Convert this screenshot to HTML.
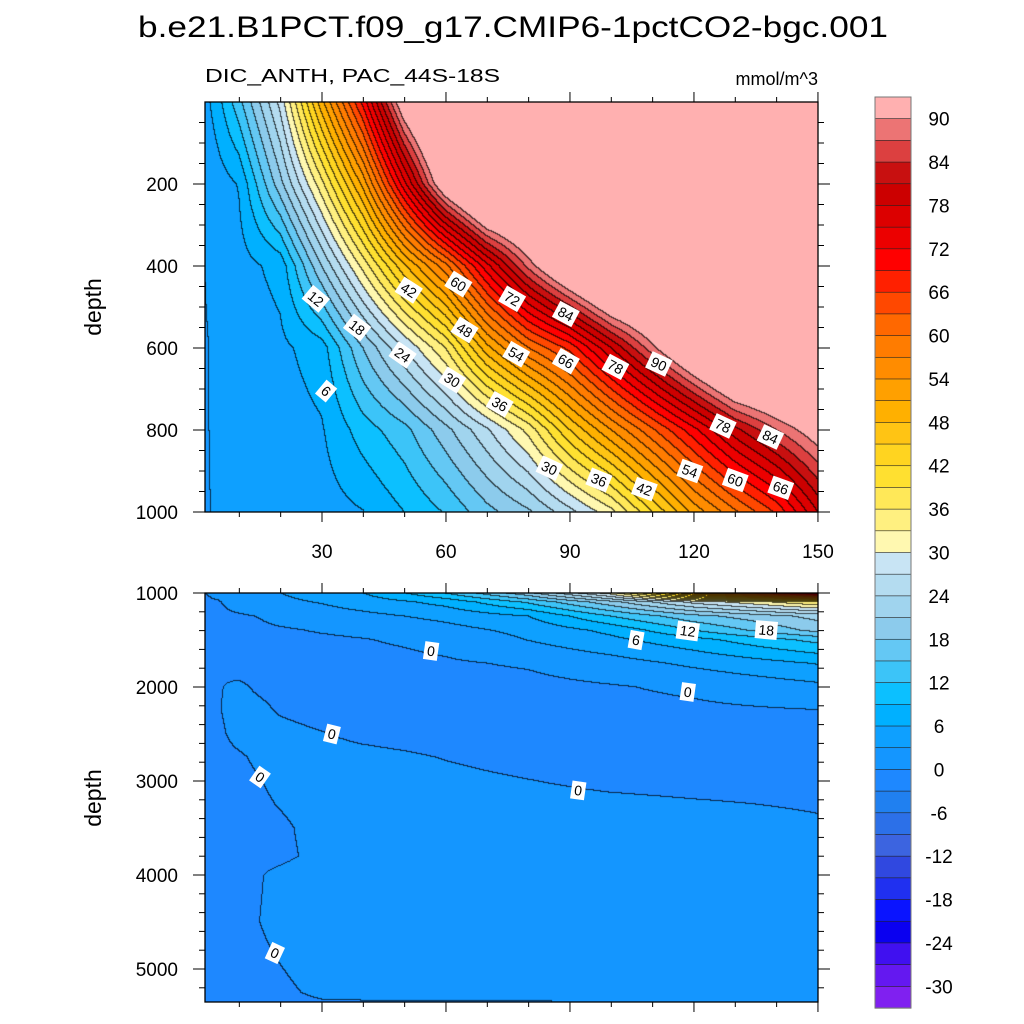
<!DOCTYPE html>
<html><head><meta charset="utf-8">
<style>
html,body{margin:0;padding:0;background:#fff;}
#wrap{position:relative;width:1024px;height:1024px;overflow:hidden;font-family:"Liberation Sans",sans-serif;}
canvas{position:absolute;}
svg{position:absolute;left:0;top:0;}
</style></head>
<body>
<div id="wrap">
<canvas id="ctop" style="left:205px;top:102px" width="613" height="410"></canvas>
<canvas id="cbot" style="left:205px;top:593px" width="613" height="409"></canvas>
<svg id="ov" width="1024" height="1024" xmlns="http://www.w3.org/2000/svg">
<text x="138" y="37" font-size="30" textLength="750" lengthAdjust="spacingAndGlyphs" font-family="Liberation Sans, sans-serif">b.e21.B1PCT.f09_g17.CMIP6-1pctCO2-bgc.001</text>
<text x="205" y="82" font-size="18" textLength="295" lengthAdjust="spacingAndGlyphs">DIC_ANTH, PAC_44S-18S</text>
<text x="818" y="85" font-size="18" text-anchor="end">mmol/m^3</text>
<text x="0" y="0" font-size="23" text-anchor="middle" transform="translate(101,307) rotate(-90)">depth</text>
<text x="0" y="0" font-size="23" text-anchor="middle" transform="translate(101,798) rotate(-90)">depth</text>
<g id="g"></g>
</svg>
</div>
<script>
// ---- data ----
const topX=[0,5,10,20,30,40,50,60,70,80,90,100,110,120,130,140,150];
const topD=[0,200,400,600,800,1000];
const topV=[
[3,8,14,28,50,70,95,110,110,110,110,110,110,110,110,110,110],
[2.5,4.5,6.2,20,35,52,74,96,110,110,110,110,110,110,110,110,110],
[2.5,4,4.8,7,21,34,47.5,59,74,88,100,110,110,110,110,110,110],
[2.5,3.4,4,5.3,7.5,18,27,36,50,60,67,78,89,100,110,110,110],
[2.5,3.4,3.8,4.5,5.7,10.5,14,20,26.5,34,45,54,62.5,71,80,87,93],
[2.5,3.3,3.6,4,4.6,5.9,9,12.3,17,20.5,26,32,42,52,59.5,66.5,78]
];
const botX=[0,5,10,15,20,30,40,50,60,80,100,120,150];
const botD=[1000,1100,1250,1400,1500,1750,2000,2250,2500,2750,3000,3250,3500,3800,4000,4500,5000,5250,5400];
const botV=[
[-0.5,0.8,1.5,2.2,3.0,4.5,6,9,12.3,20.5,32,52,78],
[-0.5,-0.2,1.2,1.8,2.3,3.2,4.5,5.6,7,12.5,20,28,36],
[-0.8,-0.6,-0.3,0.1,0.8,1.5,2.2,3,3.8,6,12,17,22],
[-0.8,-0.8,-0.7,-0.5,-0.3,0.2,0.6,1.2,2,3.8,6.8,12,19],
[-0.8,-0.8,-0.8,-0.7,-0.6,-0.4,-0.1,0.3,0.8,3.1,5.3,8,13],
[-0.5,-0.1,-0.8,-0.8,-0.8,-0.8,-0.8,-0.6,-0.3,0.3,1.8,3.6,6.2],
[-0.5,-0.1,0.3,-0.3,-0.6,-0.9,-1,-1,-1,-0.8,-0.2,0.5,2.3],
[-0.5,-0.1,0.6,0.4,-0.2,-0.8,-1,-1,-1,-1,-0.8,-0.5,-0.05],
[-0.5,-0.3,0.5,0.7,0.6,0.1,-0.5,-0.8,-1,-1,-1,-1,-0.6],
[-0.5,-0.5,-0.2,0.3,0.6,0.8,0.6,0.3,-0.1,-0.8,-1,-1,-0.9],
[-0.5,-0.5,-0.5,-0.05,0.4,0.8,0.8,0.8,0.6,0.05,-0.5,-0.7,-0.8],
[-0.5,-0.5,-0.5,-0.3,0.1,0.8,1,1,1,0.8,0.5,0.2,-0.2],
[-0.5,-0.5,-0.5,-0.5,-0.3,0.6,1,1,1,1,1,1,0.3],
[-0.5,-0.5,-0.5,-0.5,-0.4,0.5,1,1,1,1,1,1,0.8],
[-0.5,-0.5,-0.5,-0.1,0.4,1,1,1,1,1,1,1,1],
[-0.5,-0.5,-0.5,0,0.5,1,1,1,1,1,1,1,1],
[-0.5,-0.5,-0.5,-0.4,-0.05,0.6,1,1,1,1,1,1,1],
[-0.5,-0.5,-0.5,-0.5,-0.3,0.3,0.4,0.4,0.4,0.4,0.5,1,1],
[-0.5,-0.5,-0.5,-0.5,-0.5,-0.3,-0.3,-0.3,-0.3,-0.3,-0.1,0.5,0.8]
];
const levelColors=["#8020f0","#6418f0","#4010f0","#0a00f0","#0a14ff","#2030f0","#3048e0","#3c64e0","#2c70e8","#2080f0","#1e88ff","#1496ff","#0ea0ff","#00b0ff","#0cc0ff","#3cc4f8","#64c8f4","#8ccbec","#a0d4ee","#b4dcf0","#c8e4f4","#fff8b0","#fff080","#ffe858","#ffe030","#ffd420","#ffc414","#ffb000","#ffa000","#ff8c00","#ff7c00","#ff6800","#ff4800","#ff2000","#ff0000","#ec0000","#dc0000","#cc0000","#c81010","#dc4040","#ec7474","#ffb0b0"];
const cbLabels=[90,84,78,72,66,60,54,48,42,36,30,24,18,12,6,0,-6,-12,-18,-24,-30];
const xTickLabels=[30,60,90,120,150];
const topYTicks=[200,400,600,800,1000];
const botYTicks=[1000,2000,3000,4000,5000];
const topLabels=[[28.5,480,"12",40],[38.5,550,"18",38],[49.5,617,"24",35],[61.5,678,"30",32],[73,737,"36",30],[31,705,"6",40],[51,459,"42",33],[64.5,556,"48",32],[77,615,"54",30],[63,444,"60",32],[89,632,"66",30],[76,480,"72",30],[101,646,"78",28],[89,517,"84",28],[111.5,639,"90",25],[127,790,"78",25],[138.5,817,"84",25],[85,893,"30",25],[97,922,"36",22],[108,944,"42",20],[119,900,"54",20],[130,922,"60",20],[141,941,"66",20]];
const botLabels=[[56.4,1617,"0",8],[106,1500,"6",10],[118.5,1404,"12",8],[137.5,1394,"18",5],[118.5,2053,"0",8],[32.4,2500,"0",14],[92,3100,"0",8],[15,2957,"0",35],[18.6,4830,"0",25]];

// ---- scales ----
const XS=4.133, X0=198;
function px(x){return X0+x*XS;}
function pyTop(d){return 102+d*0.41;}
function pyBot(d){return 593+(d-1000)*0.094;}

function interp(X,D,V,x,d){
  let i=0;while(i<X.length-2&&x>X[i+1])i++;
  let j=0;while(j<D.length-2&&d>D[j+1])j++;
  let tx=(x-X[i])/(X[i+1]-X[i]);tx=Math.max(0,Math.min(1,tx));
  let ty=(d-D[j])/(D[j+1]-D[j]);ty=Math.max(0,Math.min(1,ty));
  return (V[j][i]*(1-tx)+V[j][i+1]*tx)*(1-ty)+(V[j+1][i]*(1-tx)+V[j+1][i+1]*tx)*ty;
}
function hex(c){return [parseInt(c.substr(1,2),16),parseInt(c.substr(3,2),16),parseInt(c.substr(5,2),16)];}
const rgb=levelColors.map(hex);
function render(id,X,D,V,toD){
  const cv=document.getElementById(id),W=cv.width,H=cv.height,ctx=cv.getContext('2d');
  const img=ctx.createImageData(W,H);const idx=new Int16Array(W*H);
  for(let y=0;y<H;y++)for(let x=0;x<W;x++){
    const v=interp(X,D,V,(205+x+0.5-X0)/XS,toD(y+0.5));
    idx[y*W+x]=Math.max(-11,Math.min(30,Math.floor(v/3)));
  }
  for(let y=0;y<H;y++)for(let x=0;x<W;x++){
    const k=y*W+x,c=rgb[idx[k]+11];let dark=false;
    if(x<W-1&&idx[k]!==idx[k+1])dark=true;
    if(y<H-1&&idx[k]!==idx[k+W])dark=true;
    const f=dark?0.3:1;
    img.data[k*4]=c[0]*f;img.data[k*4+1]=c[1]*f;img.data[k*4+2]=c[2]*f;img.data[k*4+3]=255;
  }
  ctx.putImageData(img,0,0);
}
render('ctop',topX,topD,topV,function(y){return y/0.41;});
render('cbot',botX,botD,botV,function(y){return 1000+y/0.094;});

// ---- overlay ----
const NS="http://www.w3.org/2000/svg",g=document.getElementById('g');
function el(t,a,txt){const e=document.createElementNS(NS,t);for(const k in a)e.setAttribute(k,a[k]);if(txt!==undefined)e.textContent=txt;g.appendChild(e);return e;}
function line(x1,y1,x2,y2,w){return el('line',{x1:x1,y1:y1,x2:x2,y2:y2,stroke:'#000','stroke-width':w||1});}

function frame(top,bot,name){
  const r=el('rect',{x:205,y:top,width:613,height:bot-top,fill:'none',stroke:'#000','stroke-width':1.3});
  
  
  for(let v=10;v<=150;v+=10){
    const maj=v%30===0,L=maj?10:5,x=px(v);
    const t1=line(x,top,x,top-L,1);
    
    
    const t2=line(x,bot,x,bot+L,1);
    
    
  }
}
frame(102,512,'upper-panel');
frame(593,1002,'lower-panel');
xTickLabels.forEach(function(v){
  const t=el('text',{x:px(v),y:558,'font-size':19,'text-anchor':'middle'},String(v));
  
  
});
for(let d=50;d<1000;d+=50){
  const maj=d%200===0,L=maj?12:6,y=pyTop(d);
  const a=line(205,y,205-L,y,1);
  
  
  const b=line(818,y,818+L,y,1);
  
  
}
topYTicks.forEach(function(d){
  const y=pyTop(d);
  line(193,y,205,y,1);line(818,y,830,y,1);
  const t=el('text',{x:178,y:y+7,'font-size':19,'text-anchor':'end'},String(d));
  
  
});
for(let d=1200;d<5350;d+=200){
  const maj=d%1000===0,L=maj?12:6,y=pyBot(d);
  const a=line(205,y,205-L,y,1);
  
  
  const b=line(818,y,818+L,y,1);
  
  
}
botYTicks.forEach(function(d){
  const y=pyBot(d);
  line(193,y,205,y,1);line(818,y,830,y,1);
  const t=el('text',{x:178,y:y+7,'font-size':19,'text-anchor':'end'},String(d));
  
  
});
function clabel(x,y,s,a,name){
  const gg=document.createElementNS(NS,'g');
  gg.setAttribute('transform','translate('+x+','+y+') rotate('+a+')');
  
  
  const w=s.length*8+6;
  const r=document.createElementNS(NS,'rect');
  r.setAttribute('x',-w/2);r.setAttribute('y',-9);r.setAttribute('width',w);r.setAttribute('height',18);r.setAttribute('fill','#fff');
  const t=document.createElementNS(NS,'text');
  t.setAttribute('x',0);t.setAttribute('y',5);t.setAttribute('font-size',14);t.setAttribute('text-anchor','middle');t.textContent=s;
  gg.appendChild(r);gg.appendChild(t);g.appendChild(gg);
}
topLabels.forEach(function(l){clabel(px(l[0]),pyTop(l[1]),l[2],l[3],'upper-contour-label');});
botLabels.forEach(function(l){clabel(px(l[0]),pyBot(l[1]),l[2],l[3],'lower-contour-label');});
const cbTop=97,cbBot=1008,n=levelColors.length,bh=(cbBot-cbTop)/n;
for(let i=0;i<n;i++){
  const r=el('rect',{x:875,y:cbTop+i*bh,width:36,height:bh+0.3,fill:levelColors[n-1-i],stroke:'#222','stroke-width':0.6});
  
  
}
const cbf=el('rect',{x:875,y:cbTop,width:36,height:cbBot-cbTop,fill:'none',stroke:'#777','stroke-width':1});


cbLabels.forEach(function(v,k){
  const y=cbTop+bh*(1+2*k);
  const t=el('text',{x:939,y:y+7,'font-size':19,'text-anchor':'middle'},String(v));
  
  
});
</script>
</body></html>
